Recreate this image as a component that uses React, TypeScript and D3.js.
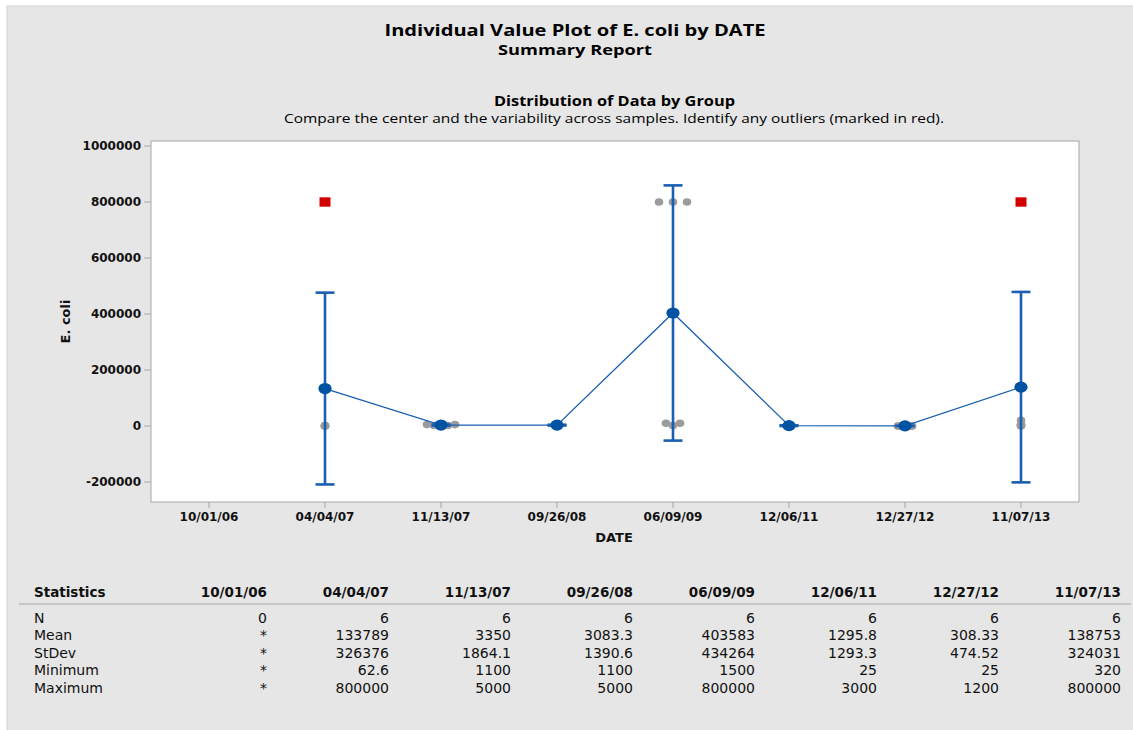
import * as d3 from 'd3'
import React from 'react'

// groups on the x axis
const dates = ['10/01/06', '04/04/07', '11/13/07', '09/26/08', '06/09/09', '12/06/11', '12/27/12', '11/07/13']
const values: number[][] = [
    [],
    [62.6, 300, 571.4, 800, 1000, 800000],
    [1100, 2000, 2000, 5000, 5000, 5000],
    [1100, 2000, 2900, 3500, 4000, 5000],
    [1500, 9999, 9999, 800000, 800000, 800000],
    [25, 350, 900, 1500, 2000, 3000],
    [25, 25, 150, 150, 300, 1200],
    [320, 2000, 4000, 6198, 20000, 800000],
]
// summary table
const statN = [0, 6, 6, 6, 6, 6, 6, 6]
const statMean = [null, 133789, 3350, 3083.3, 403583, 1295.8, 308.33, 138753]
const statStDev = [null, 326376, 1864.1, 1390.6, 434264, 1293.3, 474.52, 324031]
const statMin = [null, 62.6, 1100, 1100, 1500, 25, 25, 320]
const statMax = [null, 800000, 5000, 5000, 800000, 3000, 1200, 800000]
const yTicks = [-200000, 0, 200000, 400000, 600000, 800000, 1000000]

const tCrit = 2.5706 // t(0.975, 5)
const W = 1133, H = 730
const plot = { left: 151, right: 1079, top: 141, bottom: 502 }
const blue = '#1a5fb0'
const dark = '#0052a3'
const font = '"DejaVu Sans", sans-serif'
const headFont = '"Open Sans", sans-serif'

// Minitab style quartile
const quart = (s: number[], p: number) => {
    const pos = p * (s.length + 1)
    const lo = Math.max(1, Math.min(s.length, Math.floor(pos)))
    const hi = Math.min(s.length, lo + 1)
    const f = Math.max(0, Math.min(1, pos - lo))
    return s[lo - 1] + f * (s[hi - 1] - s[lo - 1])
}

export default function App() {
    const x = d3.scalePoint<string>().domain(dates).range([plot.left, plot.right]).padding(0.5)
    const y = d3.scaleLinear().domain([-200000, 1000000]).range([482, 146])

    const dots: { cx: number, cy: number, out: boolean }[] = []
    values.forEach((vals, gi) => {
        if (!vals.length) return
        const s = [...vals].sort((a, b) => a - b)
        const q1 = quart(s, 0.25), q3 = quart(s, 0.75), iqr = q3 - q1
        const ties = d3.group(vals, v => v)
        ties.forEach((arr, v) => {
            arr.forEach((_, j) => {
                const off = (j - (arr.length - 1) / 2) * 14
                dots.push({
                    cx: (x(dates[gi]) as number) + off,
                    cy: y(v),
                    out: v > q3 + 1.5 * iqr || v < q1 - 1.5 * iqr,
                })
            })
        })
    })

    const means = dates
        .map((d, i) => ({ d, m: statMean[i], s: statStDev[i], n: statN[i] }))
        .filter(r => r.m !== null && r.n > 0) as { d: string, m: number, s: number, n: number }[]
    const line = d3.line<{ d: string, m: number }>()
        .x(r => x(r.d) as number)
        .y(r => y(r.m))

    const rows: [string, (number | null)[]][] = [
        ['N', statN],
        ['Mean', statMean],
        ['StDev', statStDev],
        ['Minimum', statMin],
        ['Maximum', statMax],
    ]
    const colRight = (i: number) => 267 + 122 * i

    return (
        <svg width={W} height={H} style={{ position: 'absolute', left: 0, top: 0 }}>
            <rect x={0} y={0} width={W} height={H} fill="#fff" />
            <rect x={7} y={6} width={W} height={H} fill="#e6e6e6" stroke="#d2d2d2" />

            <text x={575} y={36} textAnchor="middle" fontFamily={headFont} fontWeight="bold" fontSize={16}
                textLength={381} lengthAdjust="spacingAndGlyphs">Individual Value Plot of E. coli by DATE</text>
            <text x={575} y={55} textAnchor="middle" fontFamily={headFont} fontWeight="bold" fontSize={15}
                textLength={154} lengthAdjust="spacingAndGlyphs">Summary Report</text>
            <text x={614.5} y={106} textAnchor="middle" fontFamily={headFont} fontWeight="bold" fontSize={14}
                textLength={241} lengthAdjust="spacingAndGlyphs">Distribution of Data by Group</text>
            <text x={614} y={122.5} textAnchor="middle" fontFamily={headFont} fontSize={13}
                textLength={660} lengthAdjust="spacingAndGlyphs">Compare the center and the variability across samples. Identify any outliers (marked in red).</text>

            <rect x={plot.left} y={plot.top} width={plot.right - plot.left} height={plot.bottom - plot.top}
                fill="#fff" stroke="#a6a6a6" />

            {yTicks.map(t => (
                <g key={t}>
                    <line x1={plot.left - 7} x2={plot.left} y1={y(t)} y2={y(t)} stroke="#a6a6a6" />
                    <text x={plot.left - 10} y={y(t)} dy="0.35em" textAnchor="end" fontFamily={font}
                        fontWeight="bold" fontSize={12} fill="#111">{t}</text>
                </g>
            ))}
            {dates.map(d => (
                <g key={d}>
                    <line x1={x(d)} x2={x(d)} y1={plot.bottom} y2={plot.bottom + 6} stroke="#a6a6a6" />
                    <text x={x(d)} y={521} textAnchor="middle" fontFamily={font} fontWeight="bold"
                        fontSize={12} fill="#111">{d}</text>
                </g>
            ))}
            <text x={614} y={542} textAnchor="middle" fontFamily={font} fontWeight="bold" fontSize={13} fill="#111">DATE</text>
            <text transform={`translate(70 ${(plot.top + plot.bottom) / 2}) rotate(-90)`} textAnchor="middle"
                fontFamily={font} fontWeight="bold" fontSize={13} fill="#111">E. coli</text>

            {dots.filter(p => !p.out).map((p, i) => (
                <ellipse key={i} cx={p.cx} cy={p.cy} rx={4.3} ry={3.8} fill="#9b9b9b" />
            ))}
            <path d={line(means) || ''} fill="none" stroke={blue} strokeWidth={1.3} />
            {means.map(r => {
                const h = tCrit * r.s / Math.sqrt(r.n)
                const cx = x(r.d) as number
                return (
                    <g key={r.d} stroke={blue} strokeWidth={2.6}>
                        <line x1={cx} x2={cx} y1={y(r.m + h)} y2={y(r.m - h)} />
                        <line x1={cx - 9.5} x2={cx + 9.5} y1={y(r.m + h)} y2={y(r.m + h)} />
                        <line x1={cx - 9.5} x2={cx + 9.5} y1={y(r.m - h)} y2={y(r.m - h)} />
                    </g>
                )
            })}
            {means.map(r => (
                <ellipse key={r.d} cx={x(r.d)} cy={y(r.m)} rx={6.6} ry={5.6} fill={dark} />
            ))}
            {dots.filter(p => p.out).map((p, i) => (
                <rect key={i} x={p.cx - 5.5} y={p.cy - 4.7} width={11} height={9.4} fill="#d40000" />
            ))}

            <text x={34} y={596.5} fontFamily={font} fontWeight="bold" fontSize={13.5} fill="#111">Statistics</text>
            {dates.map((d, i) => (
                <text key={d} x={colRight(i)} y={596.5} textAnchor="end" fontFamily={font} fontWeight="bold"
                    fontSize={13.5} fill="#111">{d}</text>
            ))}
            <line x1={19} x2={1131} y1={604} y2={604} stroke="#a6a6a6" />
            {rows.map(([label, vals], ri) => (
                <g key={label} fontFamily={font} fontSize={14} fill="#111">
                    <text x={34} y={622.5 + ri * 17.6}>{label}</text>
                    {vals.map((v, i) => (
                        <text key={i} x={colRight(i)} y={622.5 + ri * 17.6} textAnchor="end">
                            {v === null ? '*' : String(v)}
                        </text>
                    ))}
                </g>
            ))}
        </svg>
    )
}
